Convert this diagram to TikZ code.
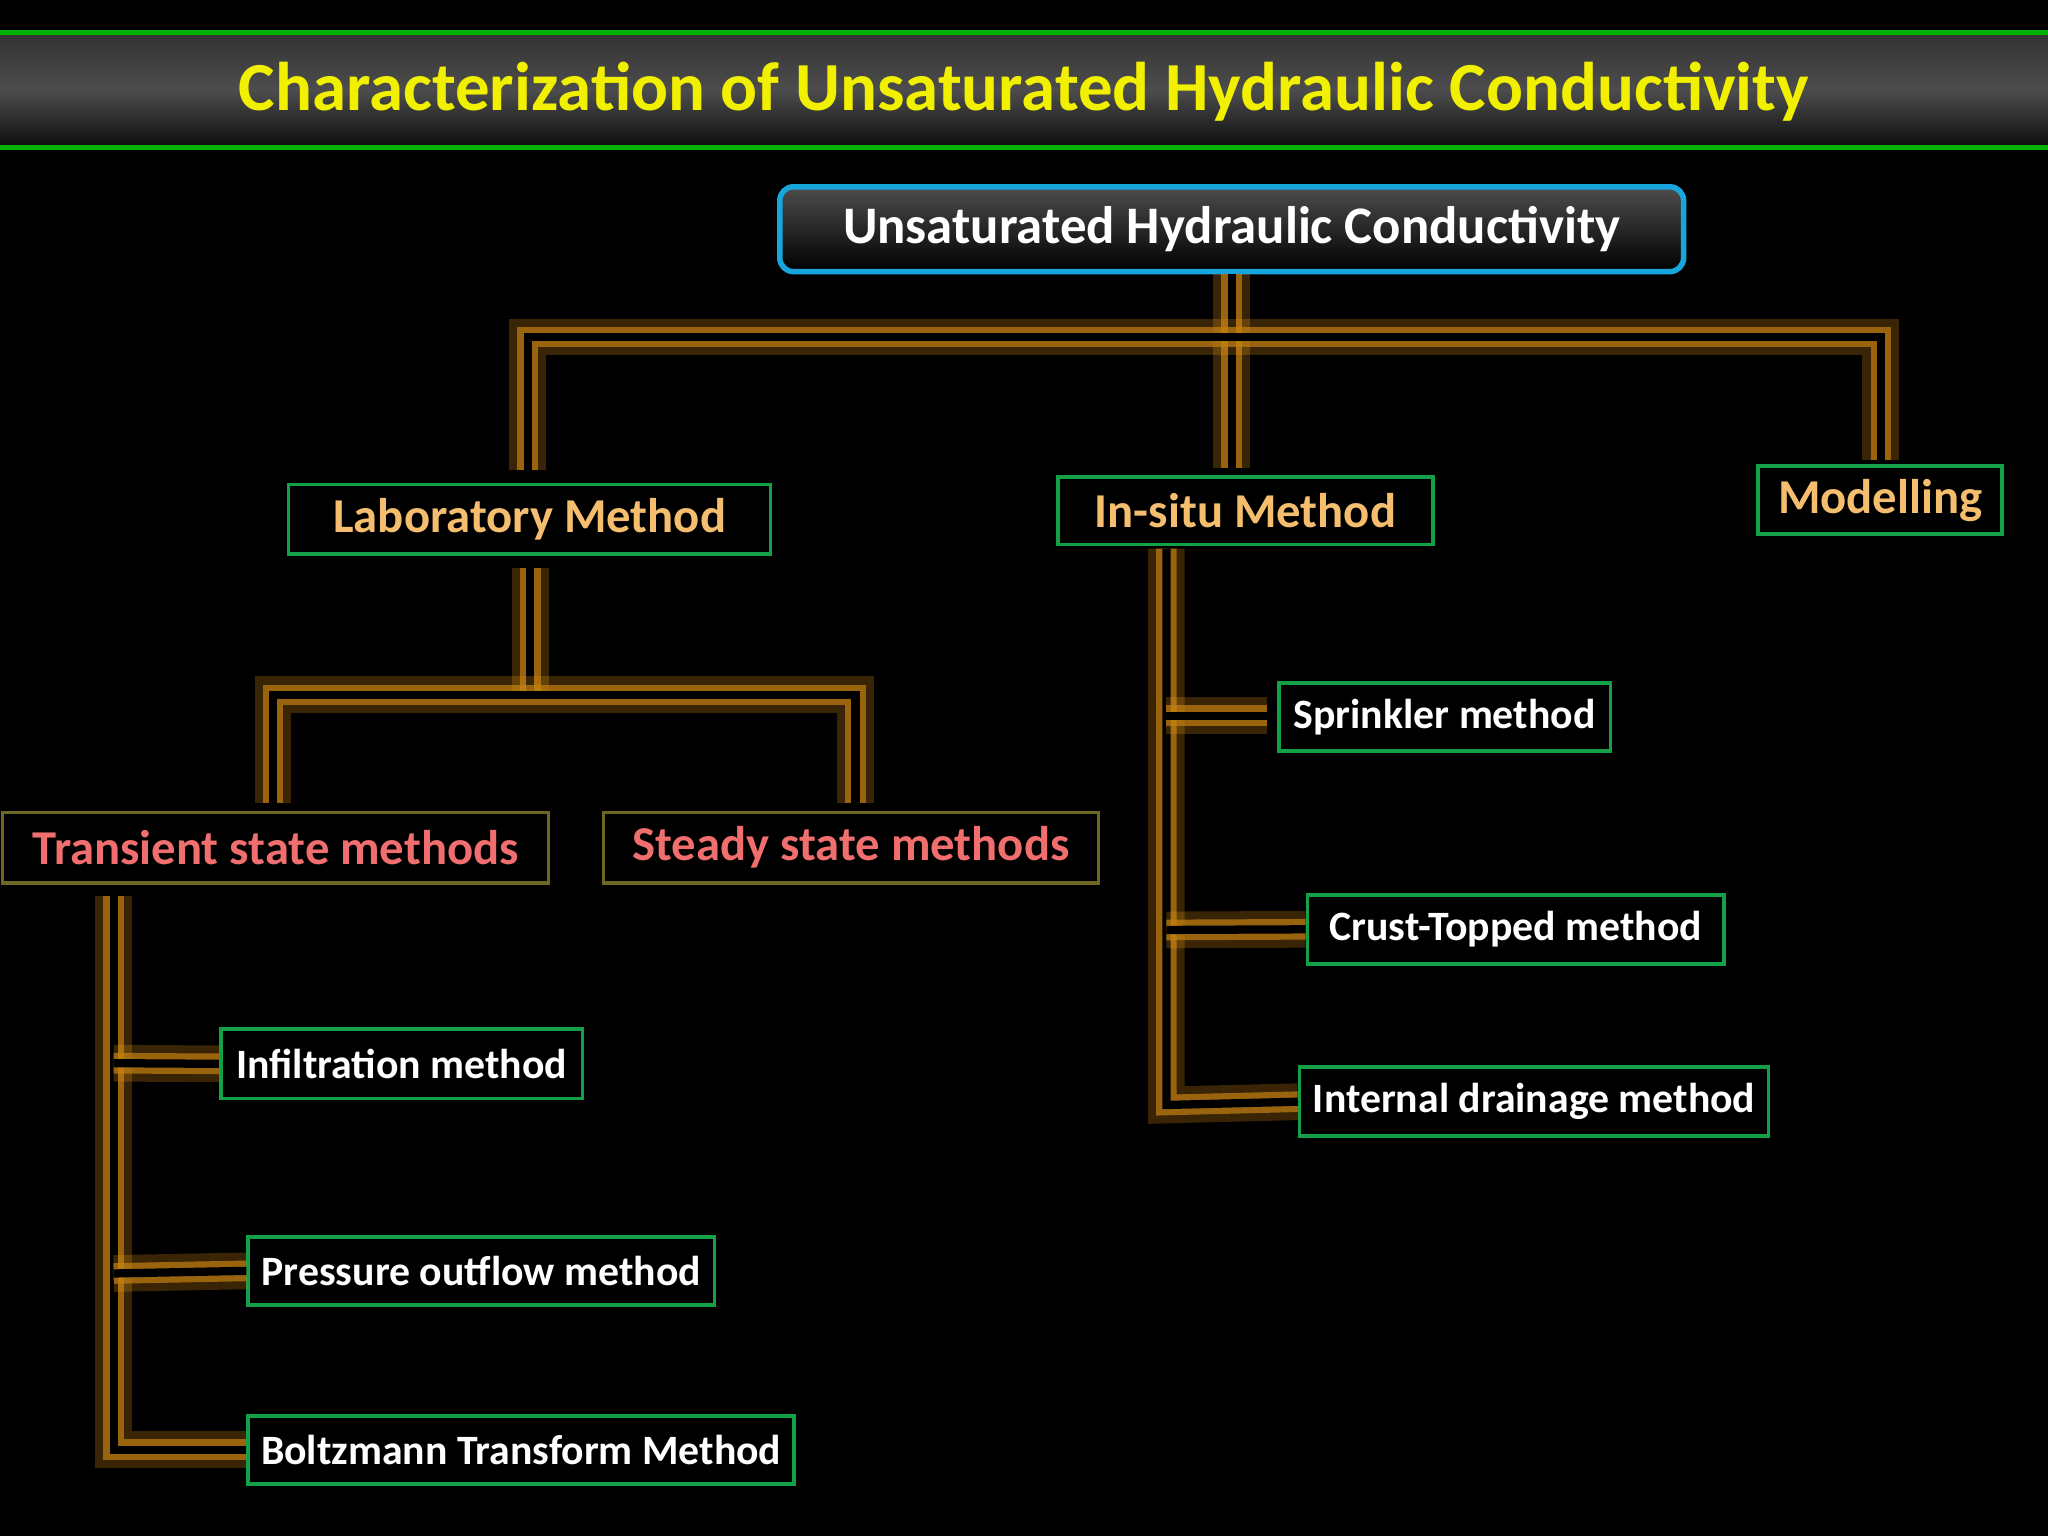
\documentclass[tikz,border=0pt]{standalone}
\usepackage{fontspec}
\setmainfont{Carlito}
\usetikzlibrary{positioning,calc}
\definecolor{glowor}{RGB}{230,150,20}
\definecolor{boxgreen}{RGB}{20,160,70}
\definecolor{titleyel}{RGB}{240,240,0}
\definecolor{labtxt}{RGB}{245,190,110}
\definecolor{trtxt}{RGB}{240,110,110}
\tikzset{
  leaf/.style={draw=boxgreen, line width=0.8pt, text=white, font=\fontsize{9.1}{11}\selectfont\bfseries, inner sep=0pt},
  method/.style={draw=boxgreen, line width=0.8pt, text=labtxt, font=\fontsize{10.6}{12}\selectfont\bfseries, inner sep=0pt},
  link/.style={line width=1.8pt, black, line join=miter,
    preaction={draw=glowor, line width=8pt, opacity=0.25},
    preaction={draw=glowor!85!black, line width=4.5pt, opacity=0.7}},
}
\begin{document}
\begin{tikzpicture}[x=1cm,y=1cm]
\useasboundingbox (0,0) rectangle (15.68,-11.76);
\fill[black] (0,0) rectangle (15.68,-11.76);

% Title bar
\shade[top color=black!80!white, bottom color=black!95!white, middle color=black!70!white] (0,-0.25) rectangle (15.68,-1.13);
\draw[green!70!black, line width=1pt] (0,-0.25) -- (15.68,-0.25);
\draw[green!70!black, line width=1pt] (0,-1.13) -- (15.68,-1.13);
\node[text=titleyel, font=\fontsize{15}{18}\selectfont\bfseries] (title) at (7.84,-0.70) {Characterization of Unsaturated Hydraulic Conductivity};

% Root
\node[draw=cyan!80!teal, line width=1.2pt, rounded corners=3pt, minimum width=6.92cm, minimum height=0.65cm,
      top color=black!70!white, bottom color=black, text=white, font=\fontsize{11.5}{13}\selectfont\bfseries] (root) at (9.43,-1.755) {Unsaturated Hydraulic Conductivity};

% Level 1
\node[method, minimum width=3.69cm, minimum height=0.53cm] (lab) at (4.055,-3.975) {Laboratory Method};
\node[method, minimum width=2.87cm, minimum height=0.52cm] (insitu) at (9.535,-3.91) {In-situ Method};
\node[method, minimum width=1.87cm, minimum height=0.52cm] (model) at (14.395,-3.83) {Modelling};

% Level 2
\node[method, draw=olive!70!black, text=trtxt, minimum width=4.18cm, minimum height=0.54cm] (trans) at (2.11,-6.49) {Transient state methods};
\node[method, draw=olive!70!black, text=trtxt, minimum width=3.79cm, minimum height=0.54cm] (steady) at (6.515,-6.49) {Steady state methods};

% Leaves
\node[leaf, minimum width=2.77cm, minimum height=0.53cm] (infil) at (3.075,-8.145) {Infiltration method};
\node[leaf, minimum width=3.57cm, minimum height=0.52cm] (press) at (3.685,-9.73) {Pressure outflow method};
\node[leaf, minimum width=4.18cm, minimum height=0.52cm] (boltz) at (3.99,-11.10) {Boltzmann Transform Method};
\node[leaf, minimum width=2.54cm, minimum height=0.52cm] (sprink) at (11.06,-5.49) {Sprinkler method};
\node[leaf, minimum width=3.19cm, minimum height=0.53cm] (crust) at (11.605,-7.115) {Crust-Topped method};
\node[leaf, minimum width=3.59cm, minimum height=0.53cm] (drain) at (11.745,-8.435) {Internal drainage method};

% Connectors
\coordinate (hub) at (9.43,-2.58);
\coordinate (hl) at (4.04,-2.58);
\coordinate (hr) at (14.40,-2.58);
\draw[link] (root.south) -- (hub) -- (9.43,-3.58);
\draw[link] (4.04,-3.60) -- (hl) -- (hr) -- (14.40,-3.52);
\coordinate (labhub) at (4.06,-5.32);
\draw[link] (4.06,-4.35) -- (labhub);
\draw[link] (2.09,-6.15) -- (2.09,-5.32) -- (6.55,-5.32) -- (6.55,-6.15);
\draw[link] (0.87,-6.86) -- (0.87,-11.10) -- (boltz.west);
\draw[link] (0.87,-8.14) -- (infil.west);
\draw[link] (0.87,-9.75) -- (press.west);
\draw[link] (8.93,-4.20) -- (8.93,-8.46) -- (drain.west);
\draw[link] (8.93,-5.48) -- (9.70,-5.48);
\draw[link] (8.93,-7.12) -- (crust.west);
\end{tikzpicture}
\end{document}
